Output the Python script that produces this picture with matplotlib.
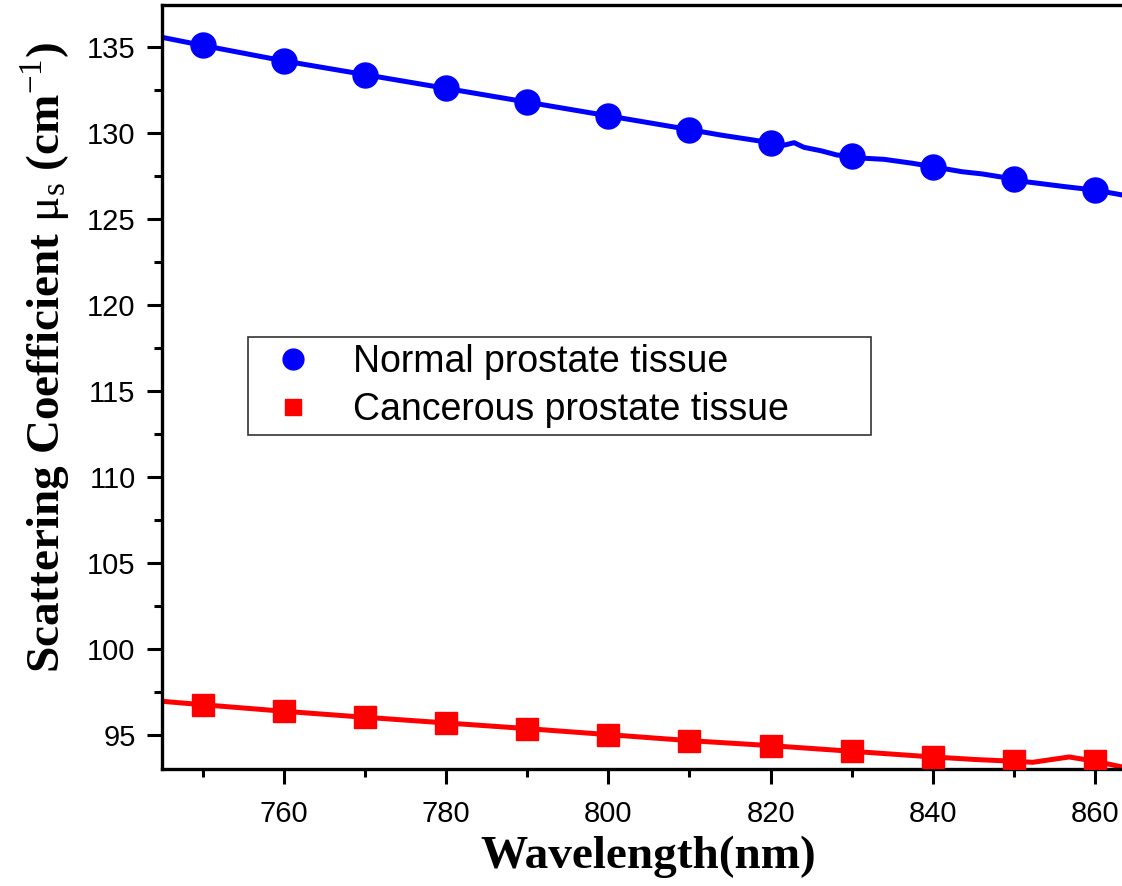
import matplotlib
matplotlib.use("Agg")
import matplotlib.pyplot as plt
from matplotlib.ticker import MultipleLocator
from matplotlib.lines import Line2D

# marker values
wl_pts = [750, 760, 770, 780, 790, 800, 810, 820, 830, 840, 850, 860]
normal_pts = [135.1, 134.2, 133.4, 132.6, 131.8, 131.0, 130.2, 129.44, 128.66, 128.04, 127.34, 126.68]
cancer_pts = [96.74, 96.36, 96.01, 95.68, 95.35, 95.0, 94.65, 94.36, 94.03, 93.70, 93.45, 93.45]

# curves (estimated, with the small wiggles)
wl_normal = [745, 750, 760, 770, 780, 790, 800, 810, 813.9, 820, 821.7, 822.9, 824.1, 826.2,
             828.2, 830, 831.7, 834.0, 837.5, 840, 843.6, 846.1, 848.2, 850, 851.4, 856.3, 860, 863.3]
normal_line = [135.57, 135.1, 134.2, 133.4, 132.6, 131.8, 131.0, 130.2, 129.88, 129.44, 129.30,
               129.44, 129.17, 128.97, 128.72, 128.66, 128.53, 128.47, 128.24, 128.04, 127.75,
               127.62, 127.46, 127.34, 127.17, 126.88, 126.68, 126.4]
wl_cancer = [745, 750, 760, 770, 780, 790, 800, 810, 820, 830, 840, 845.3, 850, 852.3, 856.8,
             860, 863.3]
cancer_line = [96.94, 96.74, 96.36, 96.01, 95.68, 95.35, 95.0, 94.65, 94.36, 94.03, 93.70, 93.55,
               93.45, 93.39, 93.70, 93.45, 93.12]

plt.rcParams['font.family'] = ['Liberation Sans', 'DejaVu Sans']
plt.rcParams['mathtext.fontset'] = 'custom'
plt.rcParams['mathtext.rm'] = 'Liberation Serif'
plt.rcParams['mathtext.bf'] = 'Liberation Serif:bold'

fig = plt.figure(figsize=(11.22, 8.86), dpi=100)
ax = fig.add_axes([162 / 1122, 117 / 886, 1 - 162 / 1122, 764 / 886])

ax.plot(wl_normal, normal_line, color='#0000ff', lw=3.6, zorder=2)
ax.plot(wl_pts, normal_pts, 'o', color='#0000ff', ms=18, zorder=3)
ax.plot(wl_cancer, cancer_line, color='#ff0000', lw=3.6, zorder=2)
ax.plot(wl_pts, cancer_pts, 's', color='#ff0000', ms=16, zorder=3)

ax.set_xlim(745, 863.3)
ax.set_ylim(93.0, 137.45)
ax.xaxis.set_major_locator(MultipleLocator(20))
ax.xaxis.set_minor_locator(MultipleLocator(10))
ax.yaxis.set_major_locator(MultipleLocator(5))
ax.yaxis.set_minor_locator(MultipleLocator(2.5))
ax.tick_params(which='major', length=11, width=2.2, labelsize=21, direction='out', pad=8)
ax.tick_params(which='minor', length=6, width=2.2, direction='out')
ax.tick_params(axis='x', pad=11)
ax.spines['right'].set_visible(False)
for s in ['left', 'bottom', 'top']:
    ax.spines[s].set_linewidth(2.4)

fig.text(648 / 1122, 1 - 857 / 886, 'Wavelength(nm)', family='Liberation Serif',
         weight='bold', fontsize=34, ha='center', va='center')
fig.text(45 / 1122, 1 - 357 / 886,
         r'Scattering Coefficient $\mathrm{\mu_s}$ (cm$^{\mathrm{-1}}$)',
         family='Liberation Serif', weight='bold', fontsize=34, rotation=90,
         ha='center', va='center')

handles = [Line2D([], [], marker='o', color='#0000ff', ls='none', ms=15),
           Line2D([], [], marker='s', color='#ff0000', ls='none', ms=12)]
leg = ax.legend(handles, ['Normal prostate tissue', 'Cancerous prostate tissue'],
                loc='upper left', mode='expand',
                bbox_to_anchor=(248 / 1122, 1 - 431 / 886, 623 / 1122, 94 / 886),
                bbox_transform=fig.transFigure, fontsize=27, frameon=True,
                fancybox=False, edgecolor='black', handletextpad=0.6,
                borderpad=0.2, labelspacing=0.3, handlelength=2.0,
                borderaxespad=0)
leg.get_frame().set_linewidth(1.2)

fig.savefig('out.png', dpi=100)
